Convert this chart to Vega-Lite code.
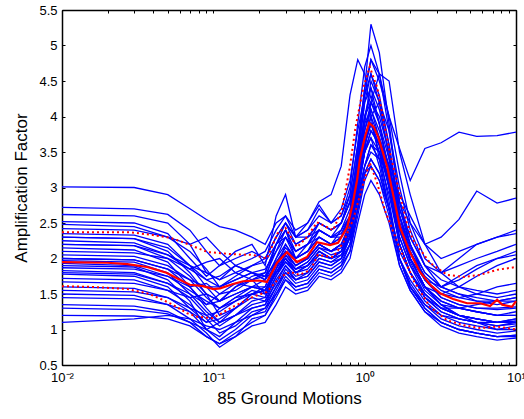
{
"$schema":"https://vega.github.io/schema/vega-lite/v6.json",
"width":454,"height":355,
"autosize":{"type":"none"},
"padding":{"left":62,"top":10,"right":8,"bottom":54},
"config":{"view":{"stroke":"black","strokeWidth":1},"font":"Liberation Sans"},
"datasets":{
"blue":[
{"g":1,"f":0.01,"v":3.01},{"g":1,"f":0.03,"v":3.0},{"g":1,"f":0.05,"v":2.9},{"g":1,"f":0.07,"v":2.7},{"g":1,"f":0.09,"v":2.55},{"g":1,"f":0.11,"v":2.45},{"g":1,"f":0.14,"v":2.4},{"g":1,"f":0.18,"v":2.3},{"g":1,"f":0.22,"v":2.2},{"g":1,"f":0.26,"v":2.5},{"g":1,"f":0.3,"v":2.6},{"g":1,"f":0.35,"v":2.3},{"g":1,"f":0.42,"v":2.4},{"g":1,"f":0.5,"v":2.6},{"g":1,"f":0.6,"v":2.5},{"g":1,"f":0.7,"v":2.7},{"g":1,"f":0.8,"v":3.1},{"g":1,"f":0.9,"v":3.8},{"g":1,"f":1,"v":4.3},{"g":1,"f":1.1,"v":4.6},{"g":1,"f":1.25,"v":4.2},{"g":1,"f":1.45,"v":3.6},{"g":1,"f":1.7,"v":2.7},{"g":1,"f":2,"v":2.2},{"g":1,"f":2.5,"v":1.8},{"g":1,"f":3.2,"v":1.6},{"g":1,"f":4.2,"v":1.5},{"g":1,"f":5.5,"v":1.45},{"g":1,"f":7.5,"v":1.4},{"g":1,"f":10,"v":1.45},
{"g":2,"f":0.01,"v":2.72},{"g":2,"f":0.03,"v":2.7},{"g":2,"f":0.05,"v":2.62},{"g":2,"f":0.07,"v":2.4},{"g":2,"f":0.09,"v":2.1},{"g":2,"f":0.11,"v":1.9},{"g":2,"f":0.14,"v":2.0},{"g":2,"f":0.18,"v":2.1},{"g":2,"f":0.22,"v":2.0},{"g":2,"f":0.26,"v":2.3},{"g":2,"f":0.3,"v":2.5},{"g":2,"f":0.35,"v":2.2},{"g":2,"f":0.42,"v":2.3},{"g":2,"f":0.5,"v":2.5},{"g":2,"f":0.6,"v":2.4},{"g":2,"f":0.7,"v":2.5},{"g":2,"f":0.8,"v":2.8},{"g":2,"f":0.9,"v":3.4},{"g":2,"f":1,"v":4.0},{"g":2,"f":1.1,"v":4.4},{"g":2,"f":1.25,"v":4.1},{"g":2,"f":1.45,"v":3.5},{"g":2,"f":1.7,"v":2.6},{"g":2,"f":2,"v":2.1},{"g":2,"f":2.5,"v":1.75},{"g":2,"f":3.2,"v":1.55},{"g":2,"f":4.2,"v":1.45},{"g":2,"f":5.5,"v":1.4},{"g":2,"f":7.5,"v":1.35},{"g":2,"f":10,"v":1.4},
{"g":3,"f":0.01,"v":2.62},{"g":3,"f":0.03,"v":2.6},{"g":3,"f":0.05,"v":2.5},{"g":3,"f":0.07,"v":2.2},{"g":3,"f":0.09,"v":1.8},{"g":3,"f":0.11,"v":1.7},{"g":3,"f":0.14,"v":1.9},{"g":3,"f":0.18,"v":1.8},{"g":3,"f":0.22,"v":1.75},{"g":3,"f":0.26,"v":2.1},{"g":3,"f":0.3,"v":2.4},{"g":3,"f":0.35,"v":2.0},{"g":3,"f":0.42,"v":2.1},{"g":3,"f":0.5,"v":2.4},{"g":3,"f":0.6,"v":2.3},{"g":3,"f":0.7,"v":2.35},{"g":3,"f":0.8,"v":2.6},{"g":3,"f":0.9,"v":3.3},{"g":3,"f":1,"v":3.9},{"g":3,"f":1.1,"v":4.1},{"g":3,"f":1.25,"v":3.8},{"g":3,"f":1.45,"v":3.3},{"g":3,"f":1.7,"v":2.5},{"g":3,"f":2,"v":2.0},{"g":3,"f":2.5,"v":1.6},{"g":3,"f":3.2,"v":1.4},{"g":3,"f":4.2,"v":1.3},{"g":3,"f":5.5,"v":1.25},{"g":3,"f":7.5,"v":1.2},{"g":3,"f":10,"v":1.25},
{"g":4,"f":0.01,"v":2.52},{"g":4,"f":0.03,"v":2.5},{"g":4,"f":0.05,"v":2.35},{"g":4,"f":0.07,"v":2.0},{"g":4,"f":0.09,"v":1.75},{"g":4,"f":0.11,"v":1.9},{"g":4,"f":0.14,"v":2.1},{"g":4,"f":0.18,"v":2.2},{"g":4,"f":0.22,"v":1.9},{"g":4,"f":0.26,"v":2.6},{"g":4,"f":0.3,"v":2.9},{"g":4,"f":0.35,"v":2.3},{"g":4,"f":0.42,"v":2.4},{"g":4,"f":0.5,"v":2.7},{"g":4,"f":0.6,"v":2.5},{"g":4,"f":0.7,"v":2.6},{"g":4,"f":0.8,"v":3.0},{"g":4,"f":0.9,"v":3.9},{"g":4,"f":1,"v":4.7},{"g":4,"f":1.1,"v":5.0},{"g":4,"f":1.25,"v":4.6},{"g":4,"f":1.45,"v":3.8},{"g":4,"f":1.7,"v":2.8},{"g":4,"f":2,"v":2.3},{"g":4,"f":2.5,"v":1.9},{"g":4,"f":3.2,"v":1.7},{"g":4,"f":4.2,"v":1.6},{"g":4,"f":5.5,"v":1.55},{"g":4,"f":7.5,"v":1.5},{"g":4,"f":10,"v":1.55},
{"g":5,"f":0.01,"v":2.48},{"g":5,"f":0.03,"v":2.45},{"g":5,"f":0.05,"v":2.3},{"g":5,"f":0.07,"v":2.1},{"g":5,"f":0.09,"v":1.85},{"g":5,"f":0.11,"v":1.6},{"g":5,"f":0.14,"v":1.7},{"g":5,"f":0.18,"v":1.8},{"g":5,"f":0.22,"v":1.7},{"g":5,"f":0.26,"v":2.2},{"g":5,"f":0.3,"v":2.3},{"g":5,"f":0.35,"v":2.0},{"g":5,"f":0.42,"v":2.2},{"g":5,"f":0.5,"v":2.3},{"g":5,"f":0.6,"v":2.2},{"g":5,"f":0.7,"v":2.4},{"g":5,"f":0.8,"v":2.7},{"g":5,"f":0.9,"v":3.5},{"g":5,"f":1,"v":4.2},{"g":5,"f":1.1,"v":4.4},{"g":5,"f":1.25,"v":3.9},{"g":5,"f":1.45,"v":3.2},{"g":5,"f":1.7,"v":2.4},{"g":5,"f":2,"v":2.0},{"g":5,"f":2.5,"v":1.6},{"g":5,"f":3.2,"v":1.35},{"g":5,"f":4.2,"v":1.2},{"g":5,"f":5.5,"v":1.15},{"g":5,"f":7.5,"v":1.1},{"g":5,"f":10,"v":1.15},
{"g":6,"f":0.01,"v":2.42},{"g":6,"f":0.03,"v":2.4},{"g":6,"f":0.05,"v":2.3},{"g":6,"f":0.07,"v":2.2},{"g":6,"f":0.09,"v":2.3},{"g":6,"f":0.11,"v":2.1},{"g":6,"f":0.14,"v":1.9},{"g":6,"f":0.18,"v":2.0},{"g":6,"f":0.22,"v":2.1},{"g":6,"f":0.26,"v":2.4},{"g":6,"f":0.3,"v":2.6},{"g":6,"f":0.35,"v":2.4},{"g":6,"f":0.42,"v":2.5},{"g":6,"f":0.5,"v":2.75},{"g":6,"f":0.6,"v":2.5},{"g":6,"f":0.7,"v":2.6},{"g":6,"f":0.8,"v":2.9},{"g":6,"f":0.9,"v":3.6},{"g":6,"f":1,"v":4.4},{"g":6,"f":1.1,"v":4.8},{"g":6,"f":1.25,"v":4.5},{"g":6,"f":1.45,"v":4.0},{"g":6,"f":1.7,"v":3.2},{"g":6,"f":2,"v":2.5},{"g":6,"f":2.5,"v":2.0},{"g":6,"f":3.2,"v":1.8},{"g":6,"f":4.2,"v":1.9},{"g":6,"f":5.5,"v":2.0},{"g":6,"f":7.5,"v":2.1},{"g":6,"f":10,"v":2.2},
{"g":7,"f":0.01,"v":2.35},{"g":7,"f":0.03,"v":2.33},{"g":7,"f":0.05,"v":2.2},{"g":7,"f":0.07,"v":1.9},{"g":7,"f":0.09,"v":1.6},{"g":7,"f":0.11,"v":1.4},{"g":7,"f":0.14,"v":1.5},{"g":7,"f":0.18,"v":1.6},{"g":7,"f":0.22,"v":1.55},{"g":7,"f":0.26,"v":1.9},{"g":7,"f":0.3,"v":2.1},{"g":7,"f":0.35,"v":1.9},{"g":7,"f":0.42,"v":2.0},{"g":7,"f":0.5,"v":2.2},{"g":7,"f":0.6,"v":2.1},{"g":7,"f":0.7,"v":2.2},{"g":7,"f":0.8,"v":2.4},{"g":7,"f":0.9,"v":3.0},{"g":7,"f":1,"v":3.5},{"g":7,"f":1.1,"v":3.8},{"g":7,"f":1.25,"v":3.6},{"g":7,"f":1.45,"v":3.1},{"g":7,"f":1.7,"v":2.3},{"g":7,"f":2,"v":1.9},{"g":7,"f":2.5,"v":1.5},{"g":7,"f":3.2,"v":1.3},{"g":7,"f":4.2,"v":1.2},{"g":7,"f":5.5,"v":1.1},{"g":7,"f":7.5,"v":1.0},{"g":7,"f":10,"v":1.05},
{"g":8,"f":0.01,"v":2.3},{"g":8,"f":0.03,"v":2.28},{"g":8,"f":0.05,"v":2.1},{"g":8,"f":0.07,"v":1.8},{"g":8,"f":0.09,"v":1.5},{"g":8,"f":0.11,"v":1.2},{"g":8,"f":0.14,"v":1.3},{"g":8,"f":0.18,"v":1.5},{"g":8,"f":0.22,"v":1.6},{"g":8,"f":0.26,"v":2.0},{"g":8,"f":0.3,"v":2.3},{"g":8,"f":0.35,"v":2.1},{"g":8,"f":0.42,"v":2.2},{"g":8,"f":0.5,"v":2.4},{"g":8,"f":0.6,"v":2.3},{"g":8,"f":0.7,"v":2.3},{"g":8,"f":0.8,"v":2.6},{"g":8,"f":0.9,"v":3.3},{"g":8,"f":1,"v":3.7},{"g":8,"f":1.1,"v":4.0},{"g":8,"f":1.25,"v":3.7},{"g":8,"f":1.45,"v":3.3},{"g":8,"f":1.7,"v":2.6},{"g":8,"f":2,"v":2.2},{"g":8,"f":2.5,"v":1.7},{"g":8,"f":3.2,"v":1.45},{"g":8,"f":4.2,"v":1.35},{"g":8,"f":5.5,"v":1.3},{"g":8,"f":7.5,"v":1.3},{"g":8,"f":10,"v":1.32},
{"g":9,"f":0.01,"v":2.25},{"g":9,"f":0.03,"v":2.22},{"g":9,"f":0.05,"v":2.05},{"g":9,"f":0.07,"v":1.85},{"g":9,"f":0.09,"v":1.95},{"g":9,"f":0.11,"v":2.0},{"g":9,"f":0.14,"v":1.8},{"g":9,"f":0.18,"v":1.7},{"g":9,"f":0.22,"v":1.8},{"g":9,"f":0.26,"v":2.2},{"g":9,"f":0.3,"v":2.4},{"g":9,"f":0.35,"v":2.1},{"g":9,"f":0.42,"v":2.2},{"g":9,"f":0.5,"v":2.5},{"g":9,"f":0.6,"v":2.4},{"g":9,"f":0.7,"v":2.5},{"g":9,"f":0.8,"v":2.8},{"g":9,"f":0.9,"v":3.3},{"g":9,"f":1,"v":3.8},{"g":9,"f":1.1,"v":4.2},{"g":9,"f":1.25,"v":4.0},{"g":9,"f":1.45,"v":3.5},{"g":9,"f":1.7,"v":2.7},{"g":9,"f":2,"v":2.3},{"g":9,"f":2.5,"v":1.9},{"g":9,"f":3.2,"v":1.8},{"g":9,"f":4.2,"v":2.0},{"g":9,"f":5.5,"v":2.2},{"g":9,"f":7.5,"v":2.3},{"g":9,"f":10,"v":2.4},
{"g":10,"f":0.01,"v":2.2},{"g":10,"f":0.03,"v":2.18},{"g":10,"f":0.05,"v":2.0},{"g":10,"f":0.07,"v":1.75},{"g":10,"f":0.09,"v":1.5},{"g":10,"f":0.11,"v":1.4},{"g":10,"f":0.14,"v":1.6},{"g":10,"f":0.18,"v":1.7},{"g":10,"f":0.22,"v":1.5},{"g":10,"f":0.26,"v":1.8},{"g":10,"f":0.3,"v":2.0},{"g":10,"f":0.35,"v":1.8},{"g":10,"f":0.42,"v":1.9},{"g":10,"f":0.5,"v":2.1},{"g":10,"f":0.6,"v":2.0},{"g":10,"f":0.7,"v":2.1},{"g":10,"f":0.8,"v":2.3},{"g":10,"f":0.9,"v":2.8},{"g":10,"f":1,"v":3.3},{"g":10,"f":1.1,"v":3.6},{"g":10,"f":1.25,"v":3.4},{"g":10,"f":1.45,"v":2.9},{"g":10,"f":1.7,"v":2.2},{"g":10,"f":2,"v":1.8},{"g":10,"f":2.5,"v":1.45},{"g":10,"f":3.2,"v":1.25},{"g":10,"f":4.2,"v":1.15},{"g":10,"f":5.5,"v":1.1},{"g":10,"f":7.5,"v":1.05},{"g":10,"f":10,"v":1.08},
{"g":11,"f":0.01,"v":2.15},{"g":11,"f":0.03,"v":2.12},{"g":11,"f":0.05,"v":1.95},{"g":11,"f":0.07,"v":1.6},{"g":11,"f":0.09,"v":1.3},{"g":11,"f":0.11,"v":1.1},{"g":11,"f":0.14,"v":1.3},{"g":11,"f":0.18,"v":1.5},{"g":11,"f":0.22,"v":1.45},{"g":11,"f":0.26,"v":1.85},{"g":11,"f":0.3,"v":2.2},{"g":11,"f":0.35,"v":1.95},{"g":11,"f":0.42,"v":2.0},{"g":11,"f":0.5,"v":2.2},{"g":11,"f":0.6,"v":2.1},{"g":11,"f":0.7,"v":2.2},{"g":11,"f":0.8,"v":2.5},{"g":11,"f":0.9,"v":3.2},{"g":11,"f":1,"v":3.8},{"g":11,"f":1.1,"v":4.1},{"g":11,"f":1.25,"v":3.7},{"g":11,"f":1.45,"v":3.0},{"g":11,"f":1.7,"v":2.2},{"g":11,"f":2,"v":1.8},{"g":11,"f":2.5,"v":1.5},{"g":11,"f":3.2,"v":1.3},{"g":11,"f":4.2,"v":1.3},{"g":11,"f":5.5,"v":1.35},{"g":11,"f":7.5,"v":1.4},{"g":11,"f":10,"v":1.45},
{"g":12,"f":0.01,"v":2.1},{"g":12,"f":0.03,"v":2.08},{"g":12,"f":0.05,"v":2.0},{"g":12,"f":0.07,"v":1.85},{"g":12,"f":0.09,"v":1.7},{"g":12,"f":0.11,"v":1.75},{"g":12,"f":0.14,"v":1.9},{"g":12,"f":0.18,"v":1.8},{"g":12,"f":0.22,"v":1.7},{"g":12,"f":0.26,"v":2.0},{"g":12,"f":0.3,"v":2.2},{"g":12,"f":0.35,"v":2.0},{"g":12,"f":0.42,"v":2.1},{"g":12,"f":0.5,"v":2.3},{"g":12,"f":0.6,"v":2.2},{"g":12,"f":0.7,"v":2.3},{"g":12,"f":0.8,"v":2.5},{"g":12,"f":0.9,"v":3.0},{"g":12,"f":1,"v":3.6},{"g":12,"f":1.1,"v":4.0},{"g":12,"f":1.25,"v":4.2},{"g":12,"f":1.45,"v":3.8},{"g":12,"f":1.7,"v":3.0},{"g":12,"f":2,"v":2.4},{"g":12,"f":2.5,"v":1.9},{"g":12,"f":3.2,"v":1.6},{"g":12,"f":4.2,"v":1.5},{"g":12,"f":5.5,"v":1.4},{"g":12,"f":7.5,"v":1.4},{"g":12,"f":10,"v":1.4},
{"g":13,"f":0.01,"v":2.05},{"g":13,"f":0.03,"v":2.03},{"g":13,"f":0.05,"v":1.9},{"g":13,"f":0.07,"v":1.7},{"g":13,"f":0.09,"v":1.45},{"g":13,"f":0.11,"v":1.3},{"g":13,"f":0.14,"v":1.45},{"g":13,"f":0.18,"v":1.6},{"g":13,"f":0.22,"v":1.6},{"g":13,"f":0.26,"v":1.95},{"g":13,"f":0.3,"v":2.1},{"g":13,"f":0.35,"v":1.9},{"g":13,"f":0.42,"v":2.0},{"g":13,"f":0.5,"v":2.2},{"g":13,"f":0.6,"v":2.1},{"g":13,"f":0.7,"v":2.2},{"g":13,"f":0.8,"v":2.45},{"g":13,"f":0.9,"v":3.3},{"g":13,"f":1,"v":4.0},{"g":13,"f":1.1,"v":4.3},{"g":13,"f":1.25,"v":3.9},{"g":13,"f":1.45,"v":3.2},{"g":13,"f":1.7,"v":2.4},{"g":13,"f":2,"v":1.95},{"g":13,"f":2.5,"v":1.55},{"g":13,"f":3.2,"v":1.35},{"g":13,"f":4.2,"v":1.3},{"g":13,"f":5.5,"v":1.25},{"g":13,"f":7.5,"v":1.2},{"g":13,"f":10,"v":1.2},
{"g":14,"f":0.01,"v":2.0},{"g":14,"f":0.03,"v":1.98},{"g":14,"f":0.05,"v":1.85},{"g":14,"f":0.07,"v":1.6},{"g":14,"f":0.09,"v":1.35},{"g":14,"f":0.11,"v":1.5},{"g":14,"f":0.14,"v":1.65},{"g":14,"f":0.18,"v":1.6},{"g":14,"f":0.22,"v":1.7},{"g":14,"f":0.26,"v":1.9},{"g":14,"f":0.3,"v":2.0},{"g":14,"f":0.35,"v":1.85},{"g":14,"f":0.42,"v":1.95},{"g":14,"f":0.5,"v":2.15},{"g":14,"f":0.6,"v":2.1},{"g":14,"f":0.7,"v":2.15},{"g":14,"f":0.8,"v":2.4},{"g":14,"f":0.9,"v":3.0},{"g":14,"f":1,"v":3.5},{"g":14,"f":1.1,"v":3.7},{"g":14,"f":1.25,"v":3.5},{"g":14,"f":1.45,"v":3.0},{"g":14,"f":1.7,"v":2.3},{"g":14,"f":2,"v":1.9},{"g":14,"f":2.5,"v":1.6},{"g":14,"f":3.2,"v":1.5},{"g":14,"f":4.2,"v":1.6},{"g":14,"f":5.5,"v":1.75},{"g":14,"f":7.5,"v":1.9},{"g":14,"f":10,"v":2.0},
{"g":15,"f":0.01,"v":1.97},{"g":15,"f":0.03,"v":1.95},{"g":15,"f":0.05,"v":1.8},{"g":15,"f":0.07,"v":1.5},{"g":15,"f":0.09,"v":1.25},{"g":15,"f":0.11,"v":1.1},{"g":15,"f":0.14,"v":1.2},{"g":15,"f":0.18,"v":1.35},{"g":15,"f":0.22,"v":1.4},{"g":15,"f":0.26,"v":1.75},{"g":15,"f":0.3,"v":1.95},{"g":15,"f":0.35,"v":1.8},{"g":15,"f":0.42,"v":1.9},{"g":15,"f":0.5,"v":2.1},{"g":15,"f":0.6,"v":2.0},{"g":15,"f":0.7,"v":2.1},{"g":15,"f":0.8,"v":2.4},{"g":15,"f":0.9,"v":3.2},{"g":15,"f":1,"v":3.9},{"g":15,"f":1.1,"v":4.5},{"g":15,"f":1.25,"v":4.2},{"g":15,"f":1.45,"v":3.4},{"g":15,"f":1.7,"v":2.5},{"g":15,"f":2,"v":2.0},{"g":15,"f":2.5,"v":1.6},{"g":15,"f":3.2,"v":1.35},{"g":15,"f":4.2,"v":1.2},{"g":15,"f":5.5,"v":1.15},{"g":15,"f":7.5,"v":1.1},{"g":15,"f":10,"v":1.1},
{"g":16,"f":0.01,"v":1.93},{"g":16,"f":0.03,"v":1.9},{"g":16,"f":0.05,"v":1.75},{"g":16,"f":0.07,"v":1.6},{"g":16,"f":0.09,"v":1.65},{"g":16,"f":0.11,"v":1.5},{"g":16,"f":0.14,"v":1.55},{"g":16,"f":0.18,"v":1.7},{"g":16,"f":0.22,"v":1.75},{"g":16,"f":0.26,"v":1.95},{"g":16,"f":0.3,"v":2.15},{"g":16,"f":0.35,"v":2.0},{"g":16,"f":0.42,"v":2.1},{"g":16,"f":0.5,"v":2.3},{"g":16,"f":0.6,"v":2.2},{"g":16,"f":0.7,"v":2.3},{"g":16,"f":0.8,"v":2.6},{"g":16,"f":0.9,"v":3.5},{"g":16,"f":1,"v":4.4},{"g":16,"f":1.1,"v":5.3},{"g":16,"f":1.25,"v":4.9},{"g":16,"f":1.45,"v":3.9},{"g":16,"f":1.7,"v":2.8},{"g":16,"f":2,"v":2.2},{"g":16,"f":2.5,"v":1.7},{"g":16,"f":3.2,"v":1.45},{"g":16,"f":4.2,"v":1.35},{"g":16,"f":5.5,"v":1.3},{"g":16,"f":7.5,"v":1.28},{"g":16,"f":10,"v":1.3},
{"g":17,"f":0.01,"v":1.9},{"g":17,"f":0.03,"v":1.88},{"g":17,"f":0.05,"v":1.7},{"g":17,"f":0.07,"v":1.4},{"g":17,"f":0.09,"v":1.0},{"g":17,"f":0.11,"v":0.9},{"g":17,"f":0.14,"v":1.1},{"g":17,"f":0.18,"v":1.3},{"g":17,"f":0.22,"v":1.35},{"g":17,"f":0.26,"v":1.7},{"g":17,"f":0.3,"v":1.9},{"g":17,"f":0.35,"v":1.7},{"g":17,"f":0.42,"v":1.8},{"g":17,"f":0.5,"v":2.0},{"g":17,"f":0.6,"v":1.95},{"g":17,"f":0.7,"v":2.0},{"g":17,"f":0.8,"v":2.2},{"g":17,"f":0.9,"v":2.7},{"g":17,"f":1,"v":3.2},{"g":17,"f":1.1,"v":3.4},{"g":17,"f":1.25,"v":3.2},{"g":17,"f":1.45,"v":2.7},{"g":17,"f":1.7,"v":2.0},{"g":17,"f":2,"v":1.7},{"g":17,"f":2.5,"v":1.4},{"g":17,"f":3.2,"v":1.2},{"g":17,"f":4.2,"v":1.1},{"g":17,"f":5.5,"v":1.05},{"g":17,"f":7.5,"v":1.0},{"g":17,"f":10,"v":1.0},
{"g":18,"f":0.01,"v":1.87},{"g":18,"f":0.03,"v":1.85},{"g":18,"f":0.05,"v":1.75},{"g":18,"f":0.07,"v":1.55},{"g":18,"f":0.09,"v":1.4},{"g":18,"f":0.11,"v":1.3},{"g":18,"f":0.14,"v":1.4},{"g":18,"f":0.18,"v":1.55},{"g":18,"f":0.22,"v":1.5},{"g":18,"f":0.26,"v":1.8},{"g":18,"f":0.3,"v":2.05},{"g":18,"f":0.35,"v":1.85},{"g":18,"f":0.42,"v":1.95},{"g":18,"f":0.5,"v":2.15},{"g":18,"f":0.6,"v":2.05},{"g":18,"f":0.7,"v":2.1},{"g":18,"f":0.8,"v":2.35},{"g":18,"f":0.9,"v":2.9},{"g":18,"f":1,"v":3.6},{"g":18,"f":1.1,"v":3.9},{"g":18,"f":1.25,"v":3.7},{"g":18,"f":1.45,"v":3.3},{"g":18,"f":1.7,"v":2.6},{"g":18,"f":2,"v":2.15},{"g":18,"f":2.5,"v":1.8},{"g":18,"f":3.2,"v":1.6},{"g":18,"f":4.2,"v":1.7},{"g":18,"f":5.5,"v":1.85},{"g":18,"f":7.5,"v":2.0},{"g":18,"f":10,"v":2.1},
{"g":19,"f":0.01,"v":1.83},{"g":19,"f":0.03,"v":1.8},{"g":19,"f":0.05,"v":1.65},{"g":19,"f":0.07,"v":1.45},{"g":19,"f":0.09,"v":1.2},{"g":19,"f":0.11,"v":1.05},{"g":19,"f":0.14,"v":1.2},{"g":19,"f":0.18,"v":1.4},{"g":19,"f":0.22,"v":1.45},{"g":19,"f":0.26,"v":1.75},{"g":19,"f":0.3,"v":2.0},{"g":19,"f":0.35,"v":1.8},{"g":19,"f":0.42,"v":1.85},{"g":19,"f":0.5,"v":2.05},{"g":19,"f":0.6,"v":2.0},{"g":19,"f":0.7,"v":2.05},{"g":19,"f":0.8,"v":2.3},{"g":19,"f":0.9,"v":3.0},{"g":19,"f":1,"v":3.6},{"g":19,"f":1.1,"v":3.9},{"g":19,"f":1.25,"v":3.6},{"g":19,"f":1.45,"v":3.0},{"g":19,"f":1.7,"v":2.2},{"g":19,"f":2,"v":1.8},{"g":19,"f":2.5,"v":1.45},{"g":19,"f":3.2,"v":1.25},{"g":19,"f":4.2,"v":1.15},{"g":19,"f":5.5,"v":1.1},{"g":19,"f":7.5,"v":1.05},{"g":19,"f":10,"v":1.1},
{"g":20,"f":0.01,"v":1.78},{"g":20,"f":0.03,"v":1.75},{"g":20,"f":0.05,"v":1.6},{"g":20,"f":0.07,"v":1.3},{"g":20,"f":0.09,"v":1.1},{"g":20,"f":0.11,"v":1.3},{"g":20,"f":0.14,"v":1.45},{"g":20,"f":0.18,"v":1.5},{"g":20,"f":0.22,"v":1.55},{"g":20,"f":0.26,"v":1.8},{"g":20,"f":0.3,"v":2.0},{"g":20,"f":0.35,"v":1.85},{"g":20,"f":0.42,"v":1.9},{"g":20,"f":0.5,"v":2.1},{"g":20,"f":0.6,"v":2.0},{"g":20,"f":0.7,"v":2.1},{"g":20,"f":0.8,"v":2.3},{"g":20,"f":0.9,"v":2.8},{"g":20,"f":1,"v":3.3},{"g":20,"f":1.1,"v":3.6},{"g":20,"f":1.25,"v":3.5},{"g":20,"f":1.45,"v":3.1},{"g":20,"f":1.7,"v":2.5},{"g":20,"f":2,"v":2.1},{"g":20,"f":2.5,"v":1.7},{"g":20,"f":3.2,"v":1.5},{"g":20,"f":4.2,"v":1.45},{"g":20,"f":5.5,"v":1.5},{"g":20,"f":7.5,"v":1.6},{"g":20,"f":10,"v":1.65},
{"g":21,"f":0.01,"v":1.72},{"g":21,"f":0.03,"v":1.7},{"g":21,"f":0.05,"v":1.55},{"g":21,"f":0.07,"v":1.35},{"g":21,"f":0.09,"v":1.15},{"g":21,"f":0.11,"v":0.95},{"g":21,"f":0.14,"v":1.05},{"g":21,"f":0.18,"v":1.25},{"g":21,"f":0.22,"v":1.3},{"g":21,"f":0.26,"v":1.6},{"g":21,"f":0.3,"v":1.85},{"g":21,"f":0.35,"v":1.7},{"g":21,"f":0.42,"v":1.75},{"g":21,"f":0.5,"v":1.95},{"g":21,"f":0.6,"v":1.9},{"g":21,"f":0.7,"v":2.0},{"g":21,"f":0.8,"v":2.3},{"g":21,"f":0.9,"v":3.1},{"g":21,"f":1,"v":3.7},{"g":21,"f":1.1,"v":3.9},{"g":21,"f":1.25,"v":3.5},{"g":21,"f":1.45,"v":2.8},{"g":21,"f":1.7,"v":2.0},{"g":21,"f":2,"v":1.65},{"g":21,"f":2.5,"v":1.35},{"g":21,"f":3.2,"v":1.15},{"g":21,"f":4.2,"v":1.05},{"g":21,"f":5.5,"v":1.0},{"g":21,"f":7.5,"v":0.95},{"g":21,"f":10,"v":0.98},
{"g":22,"f":0.01,"v":1.67},{"g":22,"f":0.03,"v":1.65},{"g":22,"f":0.05,"v":1.55},{"g":22,"f":0.07,"v":1.45},{"g":22,"f":0.09,"v":1.5},{"g":22,"f":0.11,"v":1.4},{"g":22,"f":0.14,"v":1.5},{"g":22,"f":0.18,"v":1.6},{"g":22,"f":0.22,"v":1.55},{"g":22,"f":0.26,"v":1.85},{"g":22,"f":0.3,"v":2.05},{"g":22,"f":0.35,"v":1.9},{"g":22,"f":0.42,"v":2.0},{"g":22,"f":0.5,"v":2.2},{"g":22,"f":0.6,"v":2.1},{"g":22,"f":0.7,"v":2.2},{"g":22,"f":0.8,"v":2.4},{"g":22,"f":0.9,"v":2.9},{"g":22,"f":1,"v":3.3},{"g":22,"f":1.1,"v":3.5},{"g":22,"f":1.25,"v":3.4},{"g":22,"f":1.45,"v":3.2},{"g":22,"f":1.7,"v":2.9},{"g":22,"f":2,"v":2.6},{"g":22,"f":2.5,"v":2.2},{"g":22,"f":3.2,"v":2.0},{"g":22,"f":4.2,"v":2.1},{"g":22,"f":5.5,"v":2.2},{"g":22,"f":7.5,"v":2.3},{"g":22,"f":10,"v":2.35},
{"g":23,"f":0.01,"v":1.6},{"g":23,"f":0.03,"v":1.58},{"g":23,"f":0.05,"v":1.45},{"g":23,"f":0.07,"v":1.25},{"g":23,"f":0.09,"v":1.0},{"g":23,"f":0.11,"v":0.85},{"g":23,"f":0.14,"v":1.0},{"g":23,"f":0.18,"v":1.2},{"g":23,"f":0.22,"v":1.25},{"g":23,"f":0.26,"v":1.55},{"g":23,"f":0.3,"v":1.8},{"g":23,"f":0.35,"v":1.65},{"g":23,"f":0.42,"v":1.7},{"g":23,"f":0.5,"v":1.9},{"g":23,"f":0.6,"v":1.85},{"g":23,"f":0.7,"v":1.95},{"g":23,"f":0.8,"v":2.2},{"g":23,"f":0.9,"v":2.9},{"g":23,"f":1,"v":3.5},{"g":23,"f":1.1,"v":3.7},{"g":23,"f":1.25,"v":3.3},{"g":23,"f":1.45,"v":2.7},{"g":23,"f":1.7,"v":2.0},{"g":23,"f":2,"v":1.6},{"g":23,"f":2.5,"v":1.3},{"g":23,"f":3.2,"v":1.1},{"g":23,"f":4.2,"v":1.0},{"g":23,"f":5.5,"v":0.95},{"g":23,"f":7.5,"v":0.9},{"g":23,"f":10,"v":0.92},
{"g":24,"f":0.01,"v":1.55},{"g":24,"f":0.03,"v":1.53},{"g":24,"f":0.05,"v":1.45},{"g":24,"f":0.07,"v":1.3},{"g":24,"f":0.09,"v":1.2},{"g":24,"f":0.11,"v":1.25},{"g":24,"f":0.14,"v":1.4},{"g":24,"f":0.18,"v":1.5},{"g":24,"f":0.22,"v":1.55},{"g":24,"f":0.26,"v":1.8},{"g":24,"f":0.3,"v":1.95},{"g":24,"f":0.35,"v":1.8},{"g":24,"f":0.42,"v":1.9},{"g":24,"f":0.5,"v":2.05},{"g":24,"f":0.6,"v":2.0},{"g":24,"f":0.7,"v":2.1},{"g":24,"f":0.8,"v":2.4},{"g":24,"f":0.9,"v":3.4},{"g":24,"f":1,"v":4.2},{"g":24,"f":1.1,"v":4.6},{"g":24,"f":1.25,"v":4.3},{"g":24,"f":1.45,"v":3.6},{"g":24,"f":1.7,"v":2.6},{"g":24,"f":2,"v":2.0},{"g":24,"f":2.5,"v":1.6},{"g":24,"f":3.2,"v":1.4},{"g":24,"f":4.2,"v":1.3},{"g":24,"f":5.5,"v":1.25},{"g":24,"f":7.5,"v":1.2},{"g":24,"f":10,"v":1.2},
{"g":25,"f":0.01,"v":1.5},{"g":25,"f":0.03,"v":1.48},{"g":25,"f":0.05,"v":1.35},{"g":25,"f":0.07,"v":1.15},{"g":25,"f":0.09,"v":0.95},{"g":25,"f":0.11,"v":0.75},{"g":25,"f":0.14,"v":0.9},{"g":25,"f":0.18,"v":1.15},{"g":25,"f":0.22,"v":1.2},{"g":25,"f":0.26,"v":1.5},{"g":25,"f":0.3,"v":1.75},{"g":25,"f":0.35,"v":1.6},{"g":25,"f":0.42,"v":1.65},{"g":25,"f":0.5,"v":1.85},{"g":25,"f":0.6,"v":1.8},{"g":25,"f":0.7,"v":1.9},{"g":25,"f":0.8,"v":2.1},{"g":25,"f":0.9,"v":2.6},{"g":25,"f":1,"v":3.1},{"g":25,"f":1.1,"v":3.3},{"g":25,"f":1.25,"v":3.1},{"g":25,"f":1.45,"v":2.6},{"g":25,"f":1.7,"v":1.9},{"g":25,"f":2,"v":1.55},{"g":25,"f":2.5,"v":1.25},{"g":25,"f":3.2,"v":1.05},{"g":25,"f":4.2,"v":0.95},{"g":25,"f":5.5,"v":0.9},{"g":25,"f":7.5,"v":0.85},{"g":25,"f":10,"v":0.88},
{"g":26,"f":0.01,"v":1.45},{"g":26,"f":0.03,"v":1.43},{"g":26,"f":0.05,"v":1.35},{"g":26,"f":0.07,"v":1.25},{"g":26,"f":0.09,"v":1.1},{"g":26,"f":0.11,"v":1.15},{"g":26,"f":0.14,"v":1.3},{"g":26,"f":0.18,"v":1.45},{"g":26,"f":0.22,"v":1.4},{"g":26,"f":0.26,"v":1.65},{"g":26,"f":0.3,"v":1.9},{"g":26,"f":0.35,"v":1.75},{"g":26,"f":0.42,"v":1.8},{"g":26,"f":0.5,"v":2.0},{"g":26,"f":0.6,"v":1.95},{"g":26,"f":0.7,"v":2.05},{"g":26,"f":0.8,"v":2.3},{"g":26,"f":0.9,"v":2.9},{"g":26,"f":1,"v":3.5},{"g":26,"f":1.1,"v":3.8},{"g":26,"f":1.25,"v":3.6},{"g":26,"f":1.45,"v":3.1},{"g":26,"f":1.7,"v":2.4},{"g":26,"f":2,"v":2.0},{"g":26,"f":2.5,"v":1.7},{"g":26,"f":3.2,"v":1.6},{"g":26,"f":4.2,"v":1.75},{"g":26,"f":5.5,"v":1.9},{"g":26,"f":7.5,"v":2.0},{"g":26,"f":10,"v":2.05},
{"g":27,"f":0.01,"v":1.35},{"g":27,"f":0.03,"v":1.33},{"g":27,"f":0.05,"v":1.25},{"g":27,"f":0.07,"v":1.1},{"g":27,"f":0.09,"v":0.9},{"g":27,"f":0.11,"v":0.8},{"g":27,"f":0.14,"v":0.95},{"g":27,"f":0.18,"v":1.1},{"g":27,"f":0.22,"v":1.2},{"g":27,"f":0.26,"v":1.45},{"g":27,"f":0.3,"v":1.7},{"g":27,"f":0.35,"v":1.55},{"g":27,"f":0.42,"v":1.6},{"g":27,"f":0.5,"v":1.8},{"g":27,"f":0.6,"v":1.75},{"g":27,"f":0.7,"v":1.85},{"g":27,"f":0.8,"v":2.1},{"g":27,"f":0.9,"v":2.7},{"g":27,"f":1,"v":3.2},{"g":27,"f":1.1,"v":3.4},{"g":27,"f":1.25,"v":3.2},{"g":27,"f":1.45,"v":2.7},{"g":27,"f":1.7,"v":2.0},{"g":27,"f":2,"v":1.6},{"g":27,"f":2.5,"v":1.3},{"g":27,"f":3.2,"v":1.1},{"g":27,"f":4.2,"v":1.0},{"g":27,"f":5.5,"v":0.95},{"g":27,"f":7.5,"v":0.9},{"g":27,"f":10,"v":0.9},
{"g":28,"f":0.01,"v":1.3},{"g":28,"f":0.03,"v":1.28},{"g":28,"f":0.05,"v":1.22},{"g":28,"f":0.07,"v":1.1},{"g":28,"f":0.09,"v":1.0},{"g":28,"f":0.11,"v":1.1},{"g":28,"f":0.14,"v":1.2},{"g":28,"f":0.18,"v":1.3},{"g":28,"f":0.22,"v":1.35},{"g":28,"f":0.26,"v":1.6},{"g":28,"f":0.3,"v":1.8},{"g":28,"f":0.35,"v":1.7},{"g":28,"f":0.42,"v":1.75},{"g":28,"f":0.5,"v":1.95},{"g":28,"f":0.6,"v":1.9},{"g":28,"f":0.7,"v":2.0},{"g":28,"f":0.8,"v":2.3},{"g":28,"f":0.9,"v":3.0},{"g":28,"f":1,"v":3.6},{"g":28,"f":1.1,"v":3.9},{"g":28,"f":1.25,"v":3.6},{"g":28,"f":1.45,"v":3.0},{"g":28,"f":1.7,"v":2.2},{"g":28,"f":2,"v":1.8},{"g":28,"f":2.5,"v":1.45},{"g":28,"f":3.2,"v":1.3},{"g":28,"f":4.2,"v":1.2},{"g":28,"f":5.5,"v":1.15},{"g":28,"f":7.5,"v":1.1},{"g":28,"f":10,"v":1.1},
{"g":29,"f":0.01,"v":1.2},{"g":29,"f":0.03,"v":1.19},{"g":29,"f":0.05,"v":1.15},{"g":29,"f":0.07,"v":1.05},{"g":29,"f":0.09,"v":0.9},{"g":29,"f":0.11,"v":0.8},{"g":29,"f":0.14,"v":0.9},{"g":29,"f":0.18,"v":1.05},{"g":29,"f":0.22,"v":1.1},{"g":29,"f":0.26,"v":1.35},{"g":29,"f":0.3,"v":1.6},{"g":29,"f":0.35,"v":1.5},{"g":29,"f":0.42,"v":1.55},{"g":29,"f":0.5,"v":1.75},{"g":29,"f":0.6,"v":1.7},{"g":29,"f":0.7,"v":1.8},{"g":29,"f":0.8,"v":2.0},{"g":29,"f":0.9,"v":2.5},{"g":29,"f":1,"v":2.9},{"g":29,"f":1.1,"v":3.1},{"g":29,"f":1.25,"v":2.9},{"g":29,"f":1.45,"v":2.5},{"g":29,"f":1.7,"v":1.9},{"g":29,"f":2,"v":1.55},{"g":29,"f":2.5,"v":1.25},{"g":29,"f":3.2,"v":1.1},{"g":29,"f":4.2,"v":1.0},{"g":29,"f":5.5,"v":0.95},{"g":29,"f":7.5,"v":0.9},{"g":29,"f":10,"v":0.92},
{"g":30,"f":0.01,"v":1.1},{"g":30,"f":0.03,"v":1.15},{"g":30,"f":0.05,"v":1.2},{"g":30,"f":0.07,"v":1.15},{"g":30,"f":0.09,"v":1.05},{"g":30,"f":0.11,"v":1.0},{"g":30,"f":0.14,"v":1.1},{"g":30,"f":0.18,"v":1.2},{"g":30,"f":0.22,"v":1.3},{"g":30,"f":0.26,"v":1.5},{"g":30,"f":0.3,"v":1.7},{"g":30,"f":0.35,"v":1.6},{"g":30,"f":0.42,"v":1.65},{"g":30,"f":0.5,"v":1.85},{"g":30,"f":0.6,"v":1.8},{"g":30,"f":0.7,"v":1.9},{"g":30,"f":0.8,"v":2.2},{"g":30,"f":0.9,"v":2.7},{"g":30,"f":1,"v":3.2},{"g":30,"f":1.1,"v":3.3},{"g":30,"f":1.25,"v":3.1},{"g":30,"f":1.45,"v":2.7},{"g":30,"f":1.7,"v":2.0},{"g":30,"f":2,"v":1.6},{"g":30,"f":2.5,"v":1.35},{"g":30,"f":3.2,"v":1.2},{"g":30,"f":4.2,"v":1.15},{"g":30,"f":5.5,"v":1.1},{"g":30,"f":7.5,"v":1.1},{"g":30,"f":10,"v":1.15},
{"g":31,"f":0.01,"v":2.0},{"g":31,"f":0.03,"v":1.98},{"g":31,"f":0.05,"v":1.85},{"g":31,"f":0.07,"v":1.7},{"g":31,"f":0.09,"v":1.6},{"g":31,"f":0.11,"v":1.6},{"g":31,"f":0.14,"v":1.7},{"g":31,"f":0.18,"v":1.8},{"g":31,"f":0.22,"v":1.85},{"g":31,"f":0.26,"v":2.1},{"g":31,"f":0.3,"v":2.3},{"g":31,"f":0.35,"v":2.1},{"g":31,"f":0.42,"v":2.2},{"g":31,"f":0.5,"v":2.4},{"g":31,"f":0.6,"v":2.3},{"g":31,"f":0.7,"v":2.5},{"g":31,"f":0.8,"v":2.9},{"g":31,"f":0.9,"v":3.6},{"g":31,"f":1,"v":4.3},{"g":31,"f":1.1,"v":4.8},{"g":31,"f":1.25,"v":4.6},{"g":31,"f":1.45,"v":4.0},{"g":31,"f":1.7,"v":3.55},{"g":31,"f":2,"v":3.1},{"g":31,"f":2.5,"v":3.55},{"g":31,"f":3.2,"v":3.63},{"g":31,"f":4.2,"v":3.78},{"g":31,"f":5.5,"v":3.72},{"g":31,"f":7.5,"v":3.73},{"g":31,"f":10,"v":3.78},
{"g":32,"f":0.01,"v":2.3},{"g":32,"f":0.03,"v":2.28},{"g":32,"f":0.05,"v":2.15},{"g":32,"f":0.07,"v":1.9},{"g":32,"f":0.09,"v":1.7},{"g":32,"f":0.11,"v":1.6},{"g":32,"f":0.14,"v":1.75},{"g":32,"f":0.18,"v":1.9},{"g":32,"f":0.22,"v":1.95},{"g":32,"f":0.26,"v":2.2},{"g":32,"f":0.3,"v":2.4},{"g":32,"f":0.35,"v":2.2},{"g":32,"f":0.42,"v":2.3},{"g":32,"f":0.5,"v":2.5},{"g":32,"f":0.6,"v":2.4},{"g":32,"f":0.7,"v":2.5},{"g":32,"f":0.8,"v":2.8},{"g":32,"f":0.9,"v":3.4},{"g":32,"f":1,"v":4.0},{"g":32,"f":1.1,"v":4.2},{"g":32,"f":1.25,"v":3.9},{"g":32,"f":1.45,"v":3.4},{"g":32,"f":1.7,"v":2.8},{"g":32,"f":2,"v":2.5},{"g":32,"f":2.5,"v":2.2},{"g":32,"f":3.2,"v":2.3},{"g":32,"f":4.2,"v":2.55},{"g":32,"f":5.5,"v":2.95},{"g":32,"f":7.5,"v":2.78},{"g":32,"f":10,"v":2.85},
{"g":33,"f":0.01,"v":1.8},{"g":33,"f":0.03,"v":1.78},{"g":33,"f":0.05,"v":1.65},{"g":33,"f":0.07,"v":1.5},{"g":33,"f":0.09,"v":1.35},{"g":33,"f":0.11,"v":1.4},{"g":33,"f":0.14,"v":1.6},{"g":33,"f":0.18,"v":1.75},{"g":33,"f":0.22,"v":1.8},{"g":33,"f":0.26,"v":2.2},{"g":33,"f":0.3,"v":2.5},{"g":33,"f":0.35,"v":2.3},{"g":33,"f":0.42,"v":2.5},{"g":33,"f":0.5,"v":2.8},{"g":33,"f":0.6,"v":2.9},{"g":33,"f":0.7,"v":3.3},{"g":33,"f":0.8,"v":4.3},{"g":33,"f":0.9,"v":4.8},{"g":33,"f":1,"v":4.6},{"g":33,"f":1.1,"v":4.0},{"g":33,"f":1.25,"v":3.4},{"g":33,"f":1.45,"v":2.7},{"g":33,"f":1.7,"v":2.1},{"g":33,"f":2,"v":1.8},{"g":33,"f":2.5,"v":1.5},{"g":33,"f":3.2,"v":1.3},{"g":33,"f":4.2,"v":1.2},{"g":33,"f":5.5,"v":1.15},{"g":33,"f":7.5,"v":1.1},{"g":33,"f":10,"v":1.12},
{"g":34,"f":0.01,"v":2.2},{"g":34,"f":0.03,"v":2.18},{"g":34,"f":0.05,"v":2.05},{"g":34,"f":0.07,"v":1.9},{"g":34,"f":0.09,"v":1.8},{"g":34,"f":0.11,"v":1.7},{"g":34,"f":0.14,"v":1.8},{"g":34,"f":0.18,"v":1.9},{"g":34,"f":0.22,"v":2.0},{"g":34,"f":0.26,"v":2.3},{"g":34,"f":0.3,"v":2.5},{"g":34,"f":0.35,"v":2.3},{"g":34,"f":0.42,"v":2.3},{"g":34,"f":0.5,"v":2.4},{"g":34,"f":0.6,"v":2.3},{"g":34,"f":0.7,"v":2.4},{"g":34,"f":0.8,"v":2.6},{"g":34,"f":0.9,"v":3.0},{"g":34,"f":1,"v":3.5},{"g":34,"f":1.1,"v":4.2},{"g":34,"f":1.25,"v":4.6},{"g":34,"f":1.45,"v":4.5},{"g":34,"f":1.7,"v":3.5},{"g":34,"f":2,"v":2.9},{"g":34,"f":2.5,"v":2.2},{"g":34,"f":3.2,"v":1.8},{"g":34,"f":4.2,"v":1.6},{"g":34,"f":5.5,"v":1.5},{"g":34,"f":7.5,"v":1.45},{"g":34,"f":10,"v":1.5}
],
"red":[
{"s":"m","f":0.01,"v":1.95},{"s":"m","f":0.02,"v":1.94},{"s":"m","f":0.027,"v":1.92},{"s":"m","f":0.0365,"v":1.88},{"s":"m","f":0.049,"v":1.8},{"s":"m","f":0.06,"v":1.7},{"s":"m","f":0.07,"v":1.63},{"s":"m","f":0.0855,"v":1.61},{"s":"m","f":0.1,"v":1.57},{"s":"m","f":0.111,"v":1.58},{"s":"m","f":0.135,"v":1.64},{"s":"m","f":0.157,"v":1.68},{"s":"m","f":0.2,"v":1.69},{"s":"m","f":0.226,"v":1.67},{"s":"m","f":0.264,"v":1.94},{"s":"m","f":0.307,"v":2.09},{"s":"m","f":0.357,"v":1.95},{"s":"m","f":0.416,"v":2.02},{"s":"m","f":0.484,"v":2.23},{"s":"m","f":0.59,"v":2.19},{"s":"m","f":0.667,"v":2.22},{"s":"m","f":0.766,"v":2.44},{"s":"m","f":0.83,"v":2.75},{"s":"m","f":0.89,"v":3.1},{"s":"m","f":0.93,"v":3.4},{"s":"m","f":1.0,"v":3.7},{"s":"m","f":1.07,"v":3.91},{"s":"m","f":1.15,"v":3.85},{"s":"m","f":1.23,"v":3.71},{"s":"m","f":1.41,"v":3.29},{"s":"m","f":1.585,"v":2.78},{"s":"m","f":1.71,"v":2.44},{"s":"m","f":2.0,"v":2.08},{"s":"m","f":2.32,"v":1.81},{"s":"m","f":2.71,"v":1.63},{"s":"m","f":3.15,"v":1.51},{"s":"m","f":3.84,"v":1.43},{"s":"m","f":4.75,"v":1.37},{"s":"m","f":5.79,"v":1.37},{"s":"m","f":6.74,"v":1.33},{"s":"m","f":7.5,"v":1.42},{"s":"m","f":8.1,"v":1.35},{"s":"m","f":9.4,"v":1.32},{"s":"m","f":10,"v":1.4},
{"s":"u","f":0.01,"v":2.37},{"s":"u","f":0.028,"v":2.37},{"s":"u","f":0.04,"v":2.33},{"s":"u","f":0.052,"v":2.29},{"s":"u","f":0.063,"v":2.23},{"s":"u","f":0.078,"v":2.15},{"s":"u","f":0.092,"v":2.09},{"s":"u","f":0.105,"v":2.08},{"s":"u","f":0.135,"v":2.06},{"s":"u","f":0.183,"v":2.05},{"s":"u","f":0.226,"v":2.0},{"s":"u","f":0.268,"v":2.37},{"s":"u","f":0.3,"v":2.43},{"s":"u","f":0.357,"v":2.16},{"s":"u","f":0.416,"v":2.3},{"s":"u","f":0.484,"v":2.51},{"s":"u","f":0.62,"v":2.4},{"s":"u","f":0.71,"v":2.7},{"s":"u","f":0.8,"v":3.3},{"s":"u","f":0.87,"v":3.85},{"s":"u","f":0.98,"v":4.41},{"s":"u","f":1.08,"v":4.7},{"s":"u","f":1.21,"v":4.41},{"s":"u","f":1.33,"v":3.95},{"s":"u","f":1.47,"v":3.49},{"s":"u","f":1.64,"v":3.06},{"s":"u","f":1.9,"v":2.5},{"s":"u","f":2.09,"v":2.26},{"s":"u","f":2.7,"v":1.94},{"s":"u","f":3.5,"v":1.77},{"s":"u","f":4.5,"v":1.74},{"s":"u","f":5.8,"v":1.77},{"s":"u","f":7.5,"v":1.84},{"s":"u","f":10,"v":1.88},
{"s":"l","f":0.01,"v":1.61},{"s":"l","f":0.016,"v":1.6},{"s":"l","f":0.027,"v":1.57},{"s":"l","f":0.0365,"v":1.51},{"s":"l","f":0.044,"v":1.44},{"s":"l","f":0.054,"v":1.35},{"s":"l","f":0.067,"v":1.23},{"s":"l","f":0.078,"v":1.18},{"s":"l","f":0.098,"v":1.16},{"s":"l","f":0.107,"v":1.2},{"s":"l","f":0.135,"v":1.32},{"s":"l","f":0.183,"v":1.46},{"s":"l","f":0.226,"v":1.53},{"s":"l","f":0.276,"v":1.74},{"s":"l","f":0.323,"v":1.81},{"s":"l","f":0.37,"v":1.77},{"s":"l","f":0.44,"v":1.84},{"s":"l","f":0.49,"v":2.05},{"s":"l","f":0.62,"v":2.02},{"s":"l","f":0.72,"v":2.22},{"s":"l","f":0.84,"v":2.55},{"s":"l","f":0.98,"v":3.06},{"s":"l","f":1.08,"v":3.35},{"s":"l","f":1.21,"v":3.06},{"s":"l","f":1.36,"v":2.68},{"s":"l","f":1.5,"v":2.45},{"s":"l","f":1.7,"v":2.15},{"s":"l","f":2.0,"v":1.8},{"s":"l","f":2.09,"v":1.7},{"s":"l","f":2.7,"v":1.32},{"s":"l","f":3.5,"v":1.13},{"s":"l","f":4.5,"v":1.06},{"s":"l","f":5.8,"v":1.02},{"s":"l","f":7.5,"v":1.04},{"s":"l","f":10,"v":1.0}
]},
"layer":[
{"data":{"name":"blue"},
 "mark":{"type":"line","color":"#0000ff","strokeWidth":1.3,"clip":true},
 "encoding":{
  "x":{"field":"f","type":"quantitative","scale":{"type":"log","domain":[0.01,10],"nice":false},
   "axis":{"orient":"bottom","values":[0.01,0.02,0.03,0.04,0.05,0.06,0.07,0.08,0.09,0.1,0.2,0.3,0.4,0.5,0.6,0.7,0.8,0.9,1,2,3,4,5,6,7,8,9,10],
    "labelExpr":"datum.value==0.01?'10⁻²':datum.value==0.1?'10⁻¹':datum.value==1?'10⁰':datum.value==10?'10¹':''",
    "tickSize":-3,"tickColor":"black","domainColor":"black","domainWidth":1.5,"labelPadding":9,"labelFontSize":13,"labelColor":"black","labelFlush":false,"labelOverlap":false,"labelFont":"Liberation Sans",
    "grid":false,"title":"85 Ground Motions","titleFontSize":17,"titleFontWeight":"normal","titleColor":"black","titlePadding":6,"titleFont":"Liberation Sans"}},
  "y":{"field":"v","type":"quantitative","scale":{"domain":[0.5,5.5],"nice":false},
   "axis":{"orient":"left","values":[0.5,1,1.5,2,2.5,3,3.5,4,4.5,5,5.5],"format":"~g",
    "tickSize":-3,"tickColor":"black","domainColor":"black","domainWidth":1.5,"labelPadding":8,"labelFontSize":13,"labelColor":"black","labelFlush":false,"labelOverlap":false,"labelFont":"Liberation Sans",
    "grid":false,"title":"Amplification Factor","titleFontSize":17,"titleFontWeight":"normal","titleColor":"black","titlePadding":8,"titleFont":"Liberation Sans"}},
  "detail":{"field":"g"}}},
{"data":{"name":"red"},
 "transform":[{"filter":"datum.s != 'm'"}],
 "mark":{"type":"line","color":"#ff0000","strokeWidth":2,"strokeDash":[2,3],"strokeCap":"butt"},
 "encoding":{
  "x":{"field":"f","type":"quantitative","axis":{"orient":"top","values":[0.01,0.02,0.03,0.04,0.05,0.06,0.07,0.08,0.09,0.1,0.2,0.3,0.4,0.5,0.6,0.7,0.8,0.9,1,2,3,4,5,6,7,8,9,10],"labels":false,"tickSize":-3,"tickColor":"black","domainColor":"black","domainWidth":1.5,"grid":false,"title":null}},
  "y":{"field":"v","type":"quantitative","axis":{"orient":"right","values":[0.5,1,1.5,2,2.5,3,3.5,4,4.5,5,5.5],"labels":false,"tickSize":-3,"tickColor":"black","domainColor":"black","domainWidth":1.5,"grid":false,"title":null}},
  "detail":{"field":"s"}}},
{"data":{"name":"red"},
 "transform":[{"filter":"datum.s == 'm'"}],
 "mark":{"type":"line","color":"#ff0000","strokeWidth":2.2},
 "encoding":{
  "x":{"field":"f","type":"quantitative","axis":null},
  "y":{"field":"v","type":"quantitative","axis":null}}}
],
"resolve":{"axis":{"x":"independent","y":"independent"}}
}
